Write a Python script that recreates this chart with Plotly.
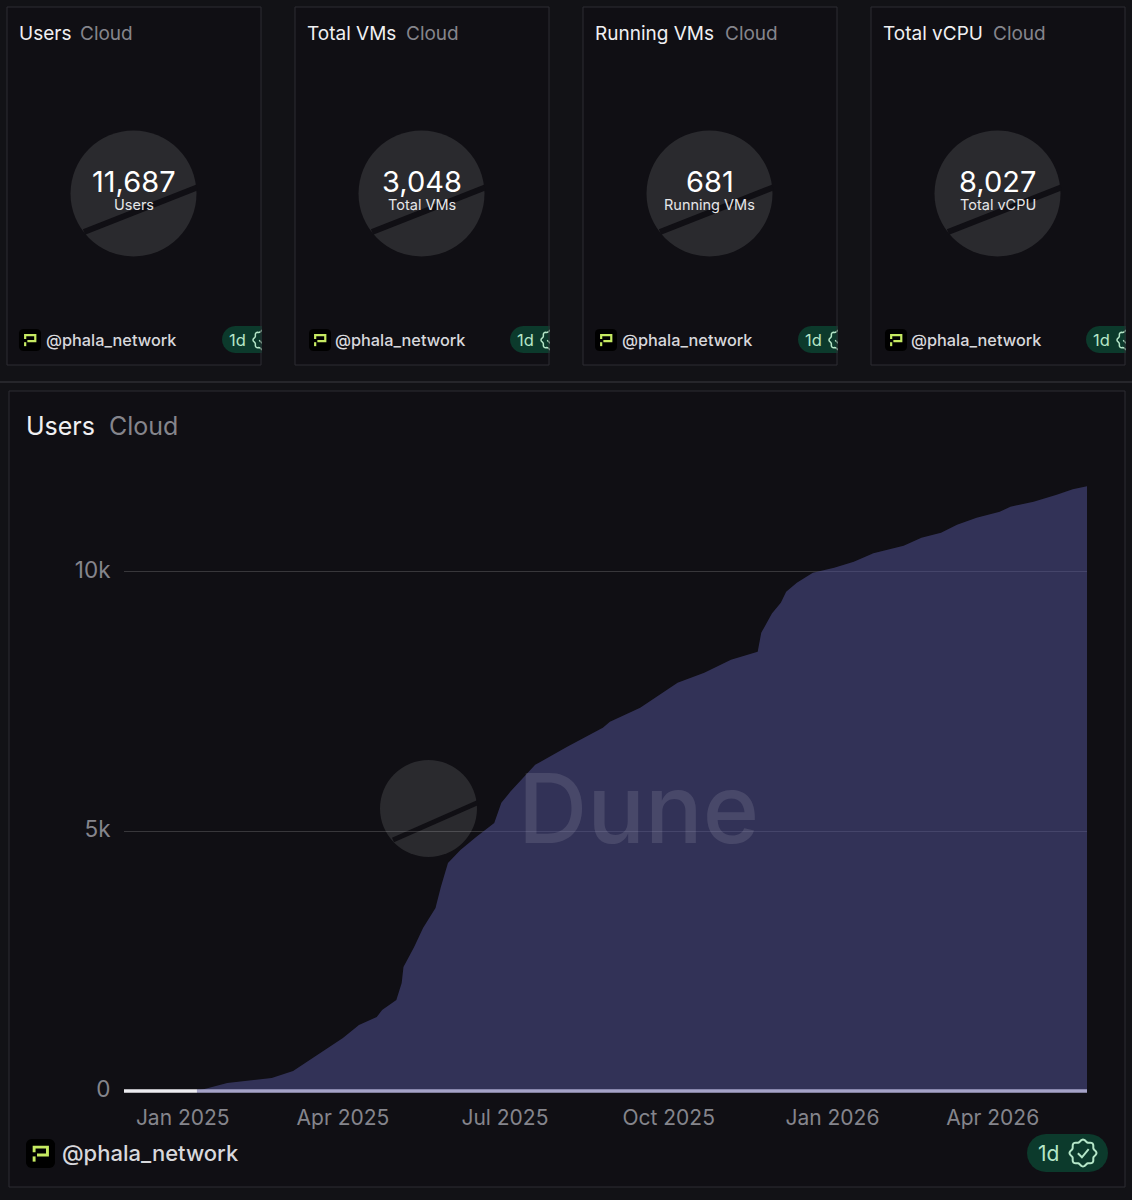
import math
import plotly.graph_objects as go

# ---- data ----
dates = ["2024-11-29","2025-01-09","2025-01-26","2025-02-20","2025-03-04","2025-03-19","2025-04-01","2025-04-10",
         "2025-04-20","2025-04-23","2025-05-01","2025-05-04","2025-05-05","2025-05-11","2025-05-16","2025-05-23",
         "2025-05-26","2025-05-30","2025-06-06","2025-06-15","2025-06-25","2025-06-29","2025-07-04","2025-07-18",
         "2025-08-05","2025-08-25","2025-08-29","2025-09-15","2025-09-28","2025-10-06","2025-10-21","2025-11-05",
         "2025-11-20","2025-11-22","2025-11-28","2025-12-03","2025-12-06","2025-12-12","2025-12-21","2026-01-02",
         "2026-01-13","2026-01-24","2026-02-10","2026-02-20","2026-03-03","2026-03-12","2026-03-23","2026-04-05",
         "2026-04-11","2026-04-24","2026-05-07","2026-05-16","2026-05-24"]
users = [0,0,154,250,385,732,1021,1272,
         1426,1561,1754,2081,2389,2775,3141,3526,
         3931,4390,4644,4895,5164,5550,5762,6282,
         6629,6995,7111,7380,7669,7862,8055,8305,
         8460,8826,9197,9404,9616,9789,9982,10078,
         10194,10356,10502,10656,10752,10907,11043,11157,
         11254,11350,11485,11590,11650]
x_tick_vals = ["2025-01-01","2025-04-01","2025-07-01","2025-10-01","2026-01-01","2026-04-01"]
x_tick_text = ["Jan 2025","Apr 2025","Jul 2025","Oct 2025","Jan 2026","Apr 2026"]
y_tick_vals = [0,5000,10000]
y_tick_text = ["0","5k","10k"]
card_titles = ["Users","Total VMs","Running VMs","Total vCPU"]
card_values = ["11,687","3,048","681","8,027"]
card_cloud_x = [81,406,725,993]

W,H = 1132,1200
PAGE="#121216"; CARD="#100f14"; BORDER="#2c2c32"; FONT="Inter, Roboto, sans-serif"
GREY="#85858c"; DISC="#2a2a2e"; PILL="#0c3a2c"; PILLTXT="#b5e6c8"; LIME="#c6ea62"

X=lambda p:p/W
Y=lambda p:1-p/H
shapes=[]; notes=[]

def path(pts,closed=False):
    d="M"+" L".join(f"{X(a):.5f},{Y(b):.5f}" for a,b in pts)
    return d+(" Z" if closed else "")

def rect(x0,y0,x1,y1,fill=None,line=None,lw=1,layer="above"):
    shapes.append(dict(type="rect",xref="paper",yref="paper",x0=X(x0),x1=X(x1),y0=Y(y1),y1=Y(y0),
        fillcolor=fill or "rgba(0,0,0,0)",line=dict(color=line or "rgba(0,0,0,0)",width=lw if line else 0),layer=layer))

def disc(cx,cy,r,a,b,sw,layer="above"):
    shapes.append(dict(type="circle",xref="paper",yref="paper",x0=X(cx-r),x1=X(cx+r),y0=Y(cy+r),y1=Y(cy-r),
        fillcolor=DISC,line=dict(width=0),layer=layer))
    shapes.append(dict(type="line",xref="paper",yref="paper",x0=X(a[0]),y0=Y(a[1]),x1=X(b[0]),y1=Y(b[1]),
        line=dict(color=CARD,width=sw),layer=layer))

def text(x,y,s,size,color,anchor="left",weight=400):
    if anchor=="left":
        x-=2.5
    notes.append(dict(xref="paper",yref="paper",x=X(x),y=Y(y),text=s,showarrow=False,xanchor=anchor,yanchor="middle",
        font=dict(family=FONT,size=size,color=color,weight=weight)))

def pill(x0,y0,x1,y1):
    r=(y1-y0)/2; cy=(y0+y1)/2
    pts=[(x0+r+r*math.cos(math.radians(t)),cy+r*math.sin(math.radians(t))) for t in range(90,271,15)]
    pts+=[(x1-r+r*math.cos(math.radians(t)),cy+r*math.sin(math.radians(t))) for t in range(-90,91,15)]
    shapes.append(dict(type="path",xref="paper",yref="paper",path=path(pts,True),fillcolor=PILL,line=dict(width=0)))

def verified(cx,cy,r,lw):
    pts=[]
    for t in range(0,360,5):
        rr=r*(0.92+0.08*math.cos(math.radians(t*8)))
        pts.append((cx+rr*math.cos(math.radians(t)),cy+rr*math.sin(math.radians(t))))
    shapes.append(dict(type="path",xref="paper",yref="paper",path=path(pts,True),line=dict(color=PILLTXT,width=lw)))
    chk=[(cx-.38*r,cy+.02*r),(cx-.08*r,cy+.32*r),(cx+.42*r,cy-.28*r)]
    shapes.append(dict(type="path",xref="paper",yref="paper",path=path(chk),line=dict(color=PILLTXT,width=lw)))

def logo(x0,y0,s):
    rr=s*.2
    pts=[]
    for cx,cy,start in [(x0+s-rr,y0+rr,-90),(x0+s-rr,y0+s-rr,0),(x0+rr,y0+s-rr,90),(x0+rr,y0+rr,180)]:
        pts+=[(cx+rr*math.cos(math.radians(start+t)),cy+rr*math.sin(math.radians(start+t))) for t in range(0,91,15)]
    shapes.append(dict(type="path",xref="paper",yref="paper",path=path(pts,True),fillcolor="#000000",line=dict(width=0)))
    u=lambda a,b:(x0+a*s,y0+b*s)
    for seg in ([u(.28,.46),u(.28,.28),u(.74,.28),u(.74,.55),u(.38,.55)],[u(.28,.60),u(.28,.78)]):
        shapes.append(dict(type="path",xref="paper",yref="paper",path=path(seg),line=dict(color=LIME,width=max(2,s*.1))))

# separator
shapes.append(dict(type="line",xref="paper",yref="paper",x0=0,x1=1,y0=Y(382),y1=Y(382),line=dict(color="#3a3a40",width=1)))

# small cards
for i,(t,v) in enumerate(zip(card_titles,card_values)):
    o=288*i
    rect(7+o,7,261+o,365,fill=CARD,layer="below")
    pill(222+o,326,285+o,353)
    verified(263+o,340,10,1.5)
    rect(262+o,320,294+o,358,fill=PAGE)       # the card clips its badge
    rect(7+o,7,261+o,365,line=BORDER)
    disc(133.5+o,193.5,63,(84+o,232),(197+o,187.5),6)
    text(19+o,34,t,19,"#f0f0f2")
    text(card_cloud_x[i],34,"Cloud",19,GREY)
    text(133.5+o,182,v,29,"#ffffff","center")
    text(133.5+o,204.5,t,14.5,"#e6e6e8","center")
    logo(19+o+(2 if i in (1,3) else 0),329,22)
    text(46+o+(1 if i in (1,3) else 0),340,"@phala_network",16.3,"#d8d8dc",weight=500)
    text(237+o,340,"1d",16.5,PILLTXT,"center")

# main card
rect(9,391,1125,1187,fill=CARD,line=BORDER,layer="below")
disc(428.5,808.5,48.5,(393,840),(478,802.5),5,layer="below")
text(26,426,"Users",25,"#f0f0f2")
text(109,426,"Cloud",25,GREY)
text(518.5,808,"Dune",96,"rgba(255,255,255,0.11)",weight=500)
logo(26,1139,29)
text(62,1153,"@phala_network",22,"#d8d8dc",weight=500)
pill(1027,1134,1108,1172)
text(1048,1153,"1d",21,PILLTXT,"center")
verified(1083,1153,13.5,2)

fig=go.Figure()
fig.add_trace(go.Scatter(x=dates,y=users,mode="lines",fill="tozeroy",fillcolor="rgba(83,82,150,0.523)",
    line=dict(width=0),hoverinfo="x+y",showlegend=False))
fig.add_trace(go.Scatter(x=dates[:2],y=[0,0],mode="lines",line=dict(color="#ececf0",width=3.5),cliponaxis=False,showlegend=False))
fig.add_trace(go.Scatter(x=dates[1:],y=[0]*len(dates[1:]),mode="lines",line=dict(color="#a5a3c8",width=3.5),cliponaxis=False,showlegend=False))
fig.update_layout(width=W,height=H,margin=dict(l=0,r=0,t=0,b=0,autoexpand=False),paper_bgcolor=PAGE,plot_bgcolor="rgba(0,0,0,0)",
    shapes=shapes,annotations=notes,showlegend=False,
    xaxis=dict(domain=[124/W,1087/W],type="date",range=["2024-11-29","2026-05-24"],tickmode="array",
        tickvals=x_tick_vals,ticktext=x_tick_text,showgrid=False,zeroline=False,showline=False,automargin=False,
        ticks="outside",ticklen=6,tickcolor="rgba(0,0,0,0)",tickfont=dict(family=FONT,size=21,color=GREY)),
    yaxis=dict(domain=[1-1093.08/H,1-468/H],range=[-40,12000],tickmode="array",tickvals=y_tick_vals,ticktext=y_tick_text,
        showgrid=True,gridcolor="rgba(255,255,255,0.17)",gridwidth=1,zeroline=False,showline=False,automargin=False,
        ticklabelshift=-2,ticks="outside",ticklen=8,tickcolor="rgba(0,0,0,0)",tickfont=dict(family=FONT,size=22.5,color=GREY)))
fig.write_html("out.html",config=dict(displayModeBar=False),post_script="document.body.style.margin='0';document.body.style.background='"+PAGE+"';")
